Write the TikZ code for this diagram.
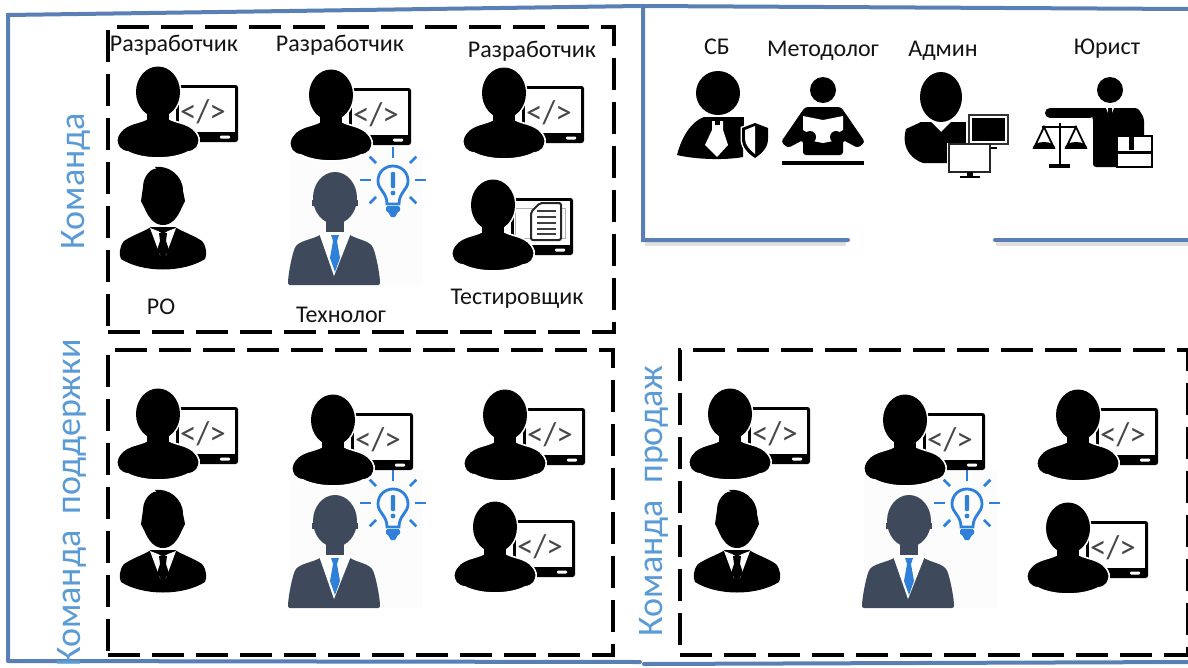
\documentclass[tikz,border=0pt]{standalone}
\usepackage{fontspec}
\setmainfont{Carlito}
\definecolor{frameblue}{HTML}{5A7FB5}
\definecolor{labelblue}{HTML}{5B9BD5}
\definecolor{slate}{HTML}{3E4A5B}
\definecolor{tieblue}{HTML}{2F80D8}
\definecolor{paleback}{HTML}{FCFCFC}
\tikzset{
  x=1pt,y=-1pt,
  framepath/.style={draw=frameblue,line width=4pt,line cap=round},
  framehalo/.style={draw=black!12,line width=7pt},
  teambox/.style={draw=black,line width=3.6pt,dash pattern=on 32pt off 12pt},
  rolelabel/.style={font=\fontsize{24}{26}\selectfont,text=black!92,inner sep=0pt},
  teamlabel/.style={font=\fontsize{36}{38}\selectfont,text=labelblue,inner sep=0pt,rotate=90},
  person/.pic={
    \fill[white] (0,0) ellipse[x radius=23.5,y radius=27.5];
    \path[fill=black,draw=white,line width=1.6pt]
      (-10,18) -- (-10,26) .. controls (-18,32) and (-36,30) .. (-41,46)
      .. controls (-42,54) and (-38,59) .. (-30,60)
      .. controls (-14,68) and (14,68) .. (30,60)
      .. controls (38,59) and (42,54) .. (41,46)
      .. controls (36,30) and (18,32) .. (10,26) -- (10,18) -- cycle;
    \fill[black] (0,0) ellipse[x radius=22,y radius=25.5];
    \fill[black] (-11,15) rectangle (11,33);
  },
  devicon/.pic={
    \fill[black,rounded corners=2.5pt] (18,-7) rectangle (80,50);
    \fill[white] (21,-4) rectangle (77,40);
    \fill[white,rounded corners=1pt] (62,43.5) rectangle (72,46.5);
    \node[font=\fontsize{33}{34}\selectfont,text=black!72,inner sep=0pt] (-code) at (45,20) {</>};
    \pic {person};
  },
  testicon/.pic={
    \fill[black,rounded corners=2.5pt] (18,-7) rectangle (80,50);
    \fill[white] (21,-4) rectangle (77,40);
    \fill[white,rounded corners=1pt] (62,43.5) rectangle (72,46.5);
    \draw[black!30,line width=.6pt] (22,3) rectangle (72,33);
    \path[fill=white,draw=black!85,line width=2pt,rounded corners=2pt] (47,-2) -- (68,-2) -- (68,35) -- (38,35) -- (38,7) -- cycle;
    \foreach \yy in {6,12,18,24,29} \draw[black!75,line width=1.4pt] (44,\yy) -- (63,\yy);
    \pic {person};
  },
  poicon/.pic={
    \fill[black] (-39,46) .. controls (-30,40) and (-20,37) .. (-12,32) -- (12,32)
      .. controls (20,37) and (30,40) .. (39,46)
      .. controls (44,52) and (44,60) .. (42,64)
      .. controls (20,78) and (-20,78) .. (-42,64)
      .. controls (-44,60) and (-44,52) .. (-39,46) -- cycle;
    \fill[black] (-20,-8) .. controls (-20,-20) and (-10,-28) .. (-6,-26) -- (-8,-28)
      .. controls (5,-30) and (20,-20) .. (20,-4) -- (22,6) -- (19,12)
      .. controls (14,24) and (8,30) .. (0,30)
      .. controls (-8,30) and (-14,24) .. (-19,12) -- (-22,6) -- cycle;
    \fill[white] (-13,33) -- (-5,36) -- (0,39) -- (5,36) -- (13,33) -- (3,60) -- (-3,60) -- cycle;
    \fill[black] (-4,38) -- (4,38) -- (3,46) -- (6,55) -- (1,62) -- (-1,62) -- (-6,55) -- (-3,46) -- cycle;
  },
  techicon/.pic={
    \fill[paleback] (-45,-50) rectangle (88,87);
    \fill[slate,rounded corners=2pt] (-12,35) -- (12,35) .. controls (22,42) and (35,42) .. (39,52)
      .. controls (42,62) and (45,78) .. (45,87) -- (-47,87)
      .. controls (-47,78) and (-44,62) .. (-41,52)
      .. controls (-37,42) and (-22,42) .. (-12,35) -- cycle;
    \fill[white] (-16,35) -- (-1,78) -- (16,35) -- (12,33) -- (-12,33) -- cycle;
    \fill[slate] (0,0) ellipse[x radius=22,y radius=26];
    \fill[slate] (-9,18) rectangle (9,34);
    \fill[slate] (-23,2) rectangle (23,8);
    \fill[tieblue] (-4,37) -- (4,37) -- (2,43) -- (5,60) -- (0,74) -- (-5,60) -- (-2,43) -- cycle;
    \begin{scope}[shift={(58,-18)}]
      \draw[tieblue,line width=2.8pt] (-6,24) .. controls (-6,12) and (-15,10) .. (-15,1)
        .. controls (-15,-8) and (-8,-14) .. (0,-14)
        .. controls (8,-14) and (15,-8) .. (15,1)
        .. controls (15,10) and (6,12) .. (6,24) -- cycle;
      \fill[tieblue,rounded corners=2pt] (-7,26) rectangle (7,32);
      \fill[tieblue] (-5,32) -- (5,32) -- (2,37) -- (-2,37) -- cycle;
      \fill[tieblue,rounded corners=1pt] (-2.2,-8) rectangle (2.2,8);
      \fill[tieblue] (0,13) circle[radius=2.4];
      \foreach \ang in {0,180,270}
        \draw[tieblue,line width=2.8pt] (\ang:22) -- (\ang:33);
      \foreach \ang in {45,135,225,315}
        \draw[tieblue,line width=2.8pt] (\ang:24) -- (\ang:33);
    \end{scope}
  },
  sbicon/.pic={
    \fill[black] (0,0) circle[radius=22];
    \fill[black] (-14,24) .. controls (-30,30) and (-38,50) .. (-41,62)
      .. controls (-20,67) and (10,67) .. (25,64) -- (26,24) -- cycle;
    \fill[white] (-6,28) -- (5,28) -- (5,37) -- (10,52) -- (-1,64) -- (-13,52) -- (-6,37) -- cycle;
    \fill[black] (-3,27) -- (2,27) -- (2,32) -- (-3,32) -- cycle;
    \path[fill=white,draw=white,line width=3pt] (24,35) -- (37,30) -- (50,35) -- (50,46) .. controls (50,55) and (43,61) .. (37,65) .. controls (31,61) and (24,55) .. (24,46) -- cycle;
    \path[fill=black] (24,35) -- (37,30) -- (50,35) -- (50,46) .. controls (50,55) and (43,61) .. (37,65) .. controls (31,61) and (24,55) .. (24,46) -- cycle;
    \path[fill=white] (27,37) -- (37,33) -- (37,61) .. controls (32,57) and (27,52) .. (27,46) -- cycle;
  },
  methicon/.pic={
    \fill[black] (0,0) circle[radius=13];
    \draw[black,line width=3.4pt] (-41,73) -- (41,73);
    \fill[black,rounded corners=3pt] (-18,17) -- (18,17) -- (42,52) -- (35,58) -- (20,50) -- (20,65) -- (-20,65) -- (-20,50) -- (-35,58) -- (-42,52) -- cycle;
    \fill[white] (-20,26) -- (0,30) -- (20,26) -- (20,40) -- (13,44) -- (15,50) -- (0,53) -- (-15,50) -- (-13,44) -- (-20,40) -- cycle;
    \fill[black] (-13,47) circle[radius=6];
    \fill[black] (13,47) circle[radius=6];
  },
  adminicon/.pic={
    \fill[black] (-20,25) -- (-35,32) .. controls (-39,45) and (-35,60) .. (-18,66)
      -- (8,66) -- (8,47) -- (26,47) -- (26,25) -- (10,25) -- (0,35) -- (-10,25) -- cycle;
    \fill[black] (0,0) ellipse[x radius=21,y radius=25];
    \fill[white] (25,17) rectangle (68,49);
    \draw[black!80,line width=1.6pt] (28,18) rectangle (67,47);
    \fill[black] (31,21) rectangle (64,44);
    \fill[black] (44,47) rectangle (50,52);
    \fill[black] (38,50) rectangle (56,52);
    \fill[white] (6,46) rectangle (50,77);
    \draw[black!85,line width=1.6pt] (8,47) rectangle (49,75);
    \fill[black] (26,75) rectangle (32,80);
    \fill[black] (19,79) rectangle (39,81);
  },
  lawicon/.pic={
    \fill[black] (0,0) circle[radius=13];
    \draw[black,line width=10pt,line cap=round] (-60,23) -- (-20,23);
    \fill[black,rounded corners=3pt] (-22,18) -- (28,18) -- (34,28) -- (34,77) -- (-17,77) -- (-17,28) -- cycle;
    \fill[white] (-4,18) -- (0,28) -- (4,18) -- cycle;
    \fill[black] (-2,18) -- (2,18) -- (2,32) -- (0,36) -- (-2,32) -- cycle;
    \path[fill=white,draw=black,line width=2pt] (7,46) rectangle (42,77);
    \draw[black,line width=3pt] (7,62) -- (42,62);
    \draw[black,line width=5pt] (21,36) -- (21,60);
    \draw[black,line width=2.4pt] (-50,33) -- (-50,75);
    \draw[black,line width=3.4pt] (-61,76) -- (-40,76);
    \draw[black,line width=2.4pt] (-68,37) -- (-33,37);
    \draw[black,line width=1.8pt] (-66,37) -- (-76,58) -- (-56,58) -- cycle;
    \draw[black,line width=1.8pt] (-34,37) -- (-44,58) -- (-24,58) -- cycle;
    \fill[black] (-77,58) arc[start angle=180,end angle=0,x radius=11,y radius=-6] -- cycle;
    \fill[black] (-45,58) arc[start angle=180,end angle=0,x radius=11,y radius=-6] -- cycle;
  },
}
\begin{document}
\begin{tikzpicture}
\useasboundingbox (0,0) rectangle (1188,667);
\fill[white] (0,0) rectangle (1188,667);
% frames
\draw[framehalo] (645,242) -- (846,242);
\draw[framehalo] (996,242) -- (1188,242);
\draw[framepath] (8,660) -- (8,15) -- (640,6);
\draw[framepath] (8,661) -- (640,662);
\draw[framepath] (1188,9) -- (643,6) -- (643,240) -- (848,240);
\draw[framepath] (995,240) -- (1188,240);
\draw[framepath] (644,664) -- (1188,662);
% dashed team boxes
\node[teambox,inner sep=0pt,minimum width=506pt,minimum height=305pt] (teamA) at (361,179.5) {};
\node[teambox,inner sep=0pt,minimum width=505pt,minimum height=305pt] (teamB) at (360.5,502.5) {};
\node[teambox,inner sep=0pt,minimum width=508pt,minimum height=305pt] (teamC) at (934,502.5) {};
% technologists first: the developers above them overlap their pale backgrounds
\pic at (335,198) {techicon};
\pic at (335,521) {techicon};
\pic at (909,521) {techicon};
% top team
\pic at (158,92) {devicon};
\pic at (331,95) {devicon};
\pic at (504,93) {devicon};
\pic at (163,195) {poicon};
\pic at (493,205) {testicon};
% support team
\pic at (158,414) {devicon};
\pic at (333,420) {devicon};
\pic at (505,415) {devicon};
\pic at (163,518) {poicon};
\pic at (495,527) {devicon};
% sales team
\pic at (730,414) {devicon};
\pic at (905,420) {devicon};
\pic at (1078,415) {devicon};
\pic at (737,518) {poicon};
\pic at (1068,528) {devicon};
% staff
\pic at (718,93) {sbicon};
\pic at (823,90) {methicon};
\pic at (941,97) {adminicon};
\pic at (1110,90) {lawicon};
% labels
\node[rolelabel] (d1) at (174,45) {Разработчик};
\node[rolelabel] (d2) at (340,45) {Разработчик};
\node[rolelabel] (d3) at (532,51) {Разработчик};
\node[rolelabel] (po) at (161,307) {РО};
\node[rolelabel] (tech) at (341,315) {Технолог};
\node[rolelabel] (test) at (517,299) {Тестировщик};
\node[rolelabel] (sb) at (717,47) {СБ};
\node[rolelabel] (meth) at (823,51) {Методолог};
\node[rolelabel] (adm) at (943,51) {Админ};
\node[rolelabel] (law) at (1107,49) {Юрист};
\node[teamlabel] (t1) at (76,181) {Команда};
\node[teamlabel] (t2) at (72,503) {Команда\ \ поддержки};
\node[teamlabel] (t3) at (654,501) {Команда\ \ продаж};
\end{tikzpicture}
\end{document}
